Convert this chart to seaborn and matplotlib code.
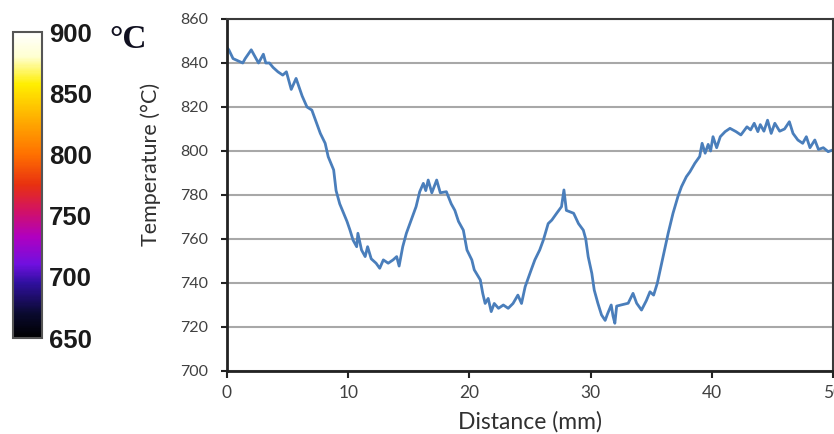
import numpy as np
import pandas as pd
import matplotlib
matplotlib.use("Agg")
import matplotlib.pyplot as plt
import matplotlib as mpl
from matplotlib.colors import LinearSegmentedColormap
import seaborn as sns

# ---- data ----
distance_mm = [
    0.0, 0.15, 0.5, 0.9, 1.3, 1.5, 2.0, 2.3, 2.6, 3.0, 3.2, 3.5, 3.8, 4.2, 4.6, 4.9,
    5.3, 5.7, 6.2, 6.6, 7.0, 7.4, 7.7, 8.1, 8.35, 8.8, 9.0, 9.3, 9.6, 9.9, 10.15,
    10.4, 10.7, 10.8, 11.1, 11.4, 11.6, 11.9, 12.3, 12.6, 12.9, 13.3, 13.7, 14.0,
    14.2, 14.5, 14.8, 15.2, 15.6, 15.9, 16.2, 16.4, 16.6, 16.9, 17.3, 17.6, 18.1,
    18.5, 18.8, 19.1, 19.5, 19.8, 20.2, 20.4, 20.9, 21.1, 21.3, 21.55, 21.8, 22.05,
    22.4, 22.8, 23.2, 23.6, 24.0, 24.3, 24.6, 24.8, 25.1, 25.4, 25.8, 26.1, 26.5,
    26.8, 27.2, 27.6, 27.8, 28.0, 28.6, 29.0, 29.4, 29.6, 29.8, 30.1, 30.3, 30.6,
    30.9, 31.2, 31.4, 31.7, 31.85, 32.0, 32.15, 32.5, 33.1, 33.5, 33.8, 34.2, 34.6,
    34.9, 35.2, 35.5, 35.8, 36.1, 36.4, 36.8, 37.2, 37.5, 37.9, 38.2, 38.6, 39.0,
    39.2, 39.45, 39.7, 39.9, 40.1, 40.4, 40.7, 41.1, 41.5, 42.0, 42.4, 42.9, 43.2,
    43.5, 43.8, 44.0, 44.3, 44.6, 44.9, 45.2, 45.6, 46.0, 46.4, 46.7, 47.1, 47.5,
    47.8, 48.1, 48.5, 48.8, 49.2, 49.6, 50.0,
]
temperature_c = [
    847, 846, 842, 841, 840, 842, 846, 843, 840, 844, 840, 840, 838, 836, 834.5, 836,
    828, 833, 825, 820, 818.6, 812.6, 808, 803.5, 797.4, 791.4, 782, 776, 772, 768, 764,
    759.5, 756.5, 762.6, 755, 752, 756.5, 751, 749, 746.7, 750.5, 749, 750.5, 752,
    747.7, 756.5, 762.6, 768.6, 774.7, 781.5, 785.3, 782, 786.8, 781, 786.8, 781, 781.5,
    776, 773, 768, 764, 755, 750.5, 746, 741.4, 735.3, 730.7, 733, 727, 730.7,
    728.5, 730, 728.5, 730.7, 734.5, 730.7, 738.3, 741.4, 746, 750.5, 755, 759.5, 767,
    768.6, 771.7, 774.7, 782.3, 773, 771.7, 767, 764, 760, 752, 744.4, 736.8, 730.8,
    725.5, 723, 726, 730, 725, 721.7, 729.5, 730, 730.8, 735.3, 730.8, 727.7, 732,
    736, 734.5, 739.8, 747.4, 755, 762.6, 771.7, 779.2, 783.8, 788.3, 790.6, 794.4, 797.5,
    803.5, 799, 803, 800, 806.5, 801.5, 806.5, 808.8, 810.3, 808.8, 807.3, 811, 809.6,
    812.6, 808.8, 812, 809, 814, 808, 812.6, 809, 810, 813.3, 808, 805, 803.5,
    806.5, 801.5, 805, 800.7, 801.5, 799.7, 800.5,
]
x_ticks = [0, 10, 20, 30, 40, 50]
y_ticks = [700, 720, 740, 760, 780, 800, 820, 840, 860]
cbar_ticks = [650, 700, 750, 800, 850, 900]

df = pd.DataFrame({"Distance (mm)": distance_mm, "Temperature (°C)": temperature_c})

sns.set_style("white")
plt.rcParams["font.family"] = ["Lato", "DejaVu Sans"]

fig = plt.figure(figsize=(8.34, 4.34), dpi=100)
ax = fig.add_axes([227 / 834, 63 / 434, 606 / 834, 352 / 434])

sns.lineplot(data=df, x="Distance (mm)", y="Temperature (°C)", ax=ax,
             color="#4a7ebb", linewidth=2.0, sort=False)

ax.set_xlim(0, 50)
ax.set_ylim(700, 860)
ax.set_xticks(x_ticks)
ax.set_yticks(y_ticks)
ax.yaxis.grid(True, color="#a8a8a8", linewidth=1.5)
ax.xaxis.grid(False)
ax.set_axisbelow(True)
for side in ["left", "bottom"]:
    ax.spines[side].set_color("#222222")
    ax.spines[side].set_linewidth(2.0)
for side in ["top", "right"]:
    ax.spines[side].set_color("#3a3a3a")
    ax.spines[side].set_linewidth(1.5)
ax.tick_params(axis="x", direction="out", length=5, width=1.5, color="#222222",
               labelsize=12.5, labelcolor="#404040", pad=5, bottom=True)
ax.tick_params(axis="y", direction="out", length=4.5, width=1.5, color="#222222",
               labelsize=11.5, labelcolor="#404040", pad=9, left=True)
ax.set_xlabel("Distance (mm)", fontsize=16.5, color="#303030")
ax.set_ylabel("Temperature (°C)", fontsize=15.5, color="#303030")
ax.xaxis.set_label_coords(0.5, -(411 - 371) / 352)
ax.yaxis.set_label_coords(-(227 - 161) / 606, (371 - 164) / 352)

# ---- thermal colour bar ----
cmap = LinearSegmentedColormap.from_list("thermal", [
    (0.00, "#000000"), (0.08, "#0a0a30"), (0.18, "#3010a0"), (0.24, "#7010e0"),
    (0.33, "#b000c0"), (0.41, "#d0106a"), (0.50, "#e83010"), (0.60, "#ff7000"),
    (0.70, "#ffa500"), (0.83, "#ffee00"), (0.92, "#ffffd0"), (1.00, "#ffffff"),
])
cax = fig.add_axes([13 / 834, 96 / 434, 29 / 834, 306 / 434])
norm = mpl.colors.Normalize(vmin=650, vmax=900)
cb = mpl.colorbar.ColorbarBase(cax, cmap=cmap, norm=norm, orientation="vertical")
cb.set_ticks(cbar_ticks)
cb.set_ticklabels([str(t) for t in cbar_ticks])
cb.outline.set_edgecolor("#555555")
cb.outline.set_linewidth(1.5)
cax.tick_params(length=0, pad=5)
for lab in cax.get_yticklabels():
    lab.set_fontsize(18.5)
    lab.set_fontweight("bold")
    lab.set_color("#1a1a1a")
    lab.set_family(["Liberation Sans", "DejaVu Sans"])

fig.text(109 / 834, 1 - 40 / 434, "°C", fontsize=24, fontweight="bold",
         family=["Liberation Serif", "DejaVu Serif"], color="#101020",
         ha="left", va="center")

fig.savefig("out.png", dpi=100)
